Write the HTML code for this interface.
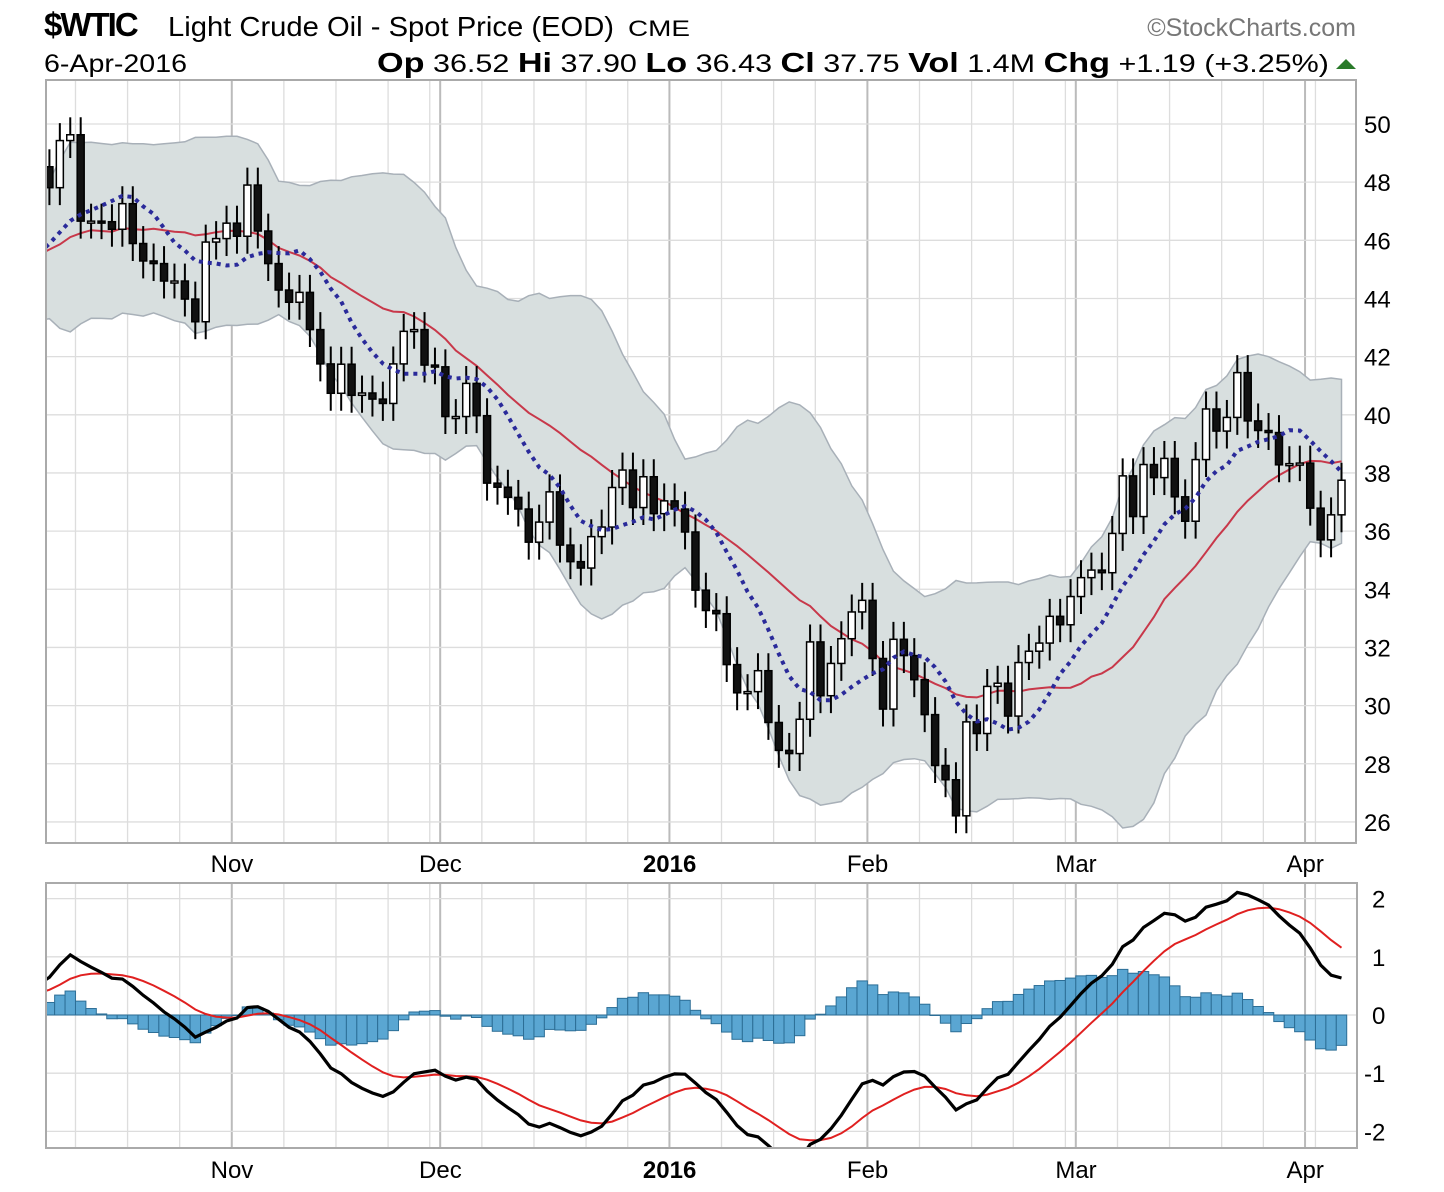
<!DOCTYPE html>
<html><head><meta charset="utf-8"><style>
body{margin:0;background:#fff;}
svg{display:block;font-family:"Liberation Sans",sans-serif;}
</style></head><body>
<svg id="c" width="1444" height="1192" viewBox="0 0 1444 1192">
<rect width="1444" height="1192" fill="#fff"/>
<g>
<text x="44" y="36" font-size="33" font-weight="bold" letter-spacing="-2">$WTIC</text>
<text x="168" y="36" font-size="28" textLength="446" lengthAdjust="spacingAndGlyphs">Light Crude Oil - Spot Price (EOD)</text>
<text x="628" y="36" font-size="22" textLength="62" lengthAdjust="spacingAndGlyphs">CME</text>
<text x="1356" y="36" font-size="25" fill="#777" text-anchor="end">©StockCharts.com</text>
<text x="44" y="72" font-size="25" textLength="143" lengthAdjust="spacingAndGlyphs">6-Apr-2016</text>
<text x="377" y="72" font-size="25" textLength="952" lengthAdjust="spacingAndGlyphs"><tspan font-weight="bold" font-size="28">Op</tspan> 36.52 <tspan font-weight="bold" font-size="28">Hi</tspan> 37.90 <tspan font-weight="bold" font-size="28">Lo</tspan> 36.43 <tspan font-weight="bold" font-size="28">Cl</tspan> 37.75 <tspan font-weight="bold" font-size="28">Vol</tspan> 1.4M <tspan font-weight="bold" font-size="28">Chg</tspan> +1.19 (+3.25%)</text>
<path d="M1336 69 L1346 59 L1356 69 Z" fill="#2a7a2a"/>
</g>
<defs>
<clipPath id="cp1"><rect x="46" y="80" width="1310" height="763"/></clipPath>
<clipPath id="cp2"><rect x="46" y="883" width="1311" height="265"/></clipPath>
</defs>
<g id="main"></g>
<g id="low"></g>
</svg>
<script>
// warm-up closes (Aug 10 - Oct 5 2015), used for indicators only
const warmCloses=[44.96,43.08,43.30,42.23,42.50,41.87,42.62,40.80,41.14,40.45,38.24,39.31,38.60,42.56,45.22,49.20,45.41,46.25,46.75,46.05,45.94,44.15,45.92,44.63,44.00,44.59,47.15,46.90,44.68,46.68,45.83,44.48,45.52,45.70,44.43,45.23,45.09,44.74,45.54,46.26];
// visible daily closes Oct 6 2015 - Apr 6 2016
const closes=[48.53,47.81,49.43,49.63,46.66,46.66,46.64,46.38,47.26,45.89,45.29,45.20,44.60,44.60,43.98,43.20,45.94,46.06,46.59,
46.14,47.90,46.32,45.20,44.29,43.87,44.21,42.93,41.75,40.74,41.74,40.67,40.75,40.54,40.39,41.75,42.87,42.93,41.71,41.65,
39.94,39.94,41.08,39.97,37.65,37.51,37.16,36.76,35.62,36.31,37.35,35.52,34.95,34.73,35.81,36.14,37.50,38.10,36.81,37.87,36.60,37.04,
36.76,35.97,33.97,33.27,33.16,31.41,30.44,30.48,31.20,29.42,28.46,28.35,29.53,32.19,30.34,31.45,32.30,33.22,33.62,
31.62,29.88,32.28,31.72,30.89,29.69,27.94,27.45,26.21,29.44,29.04,30.66,30.77,29.64,31.48,31.87,32.15,33.07,32.78,33.75,
34.40,34.66,34.57,35.92,37.90,36.50,38.29,37.84,38.50,37.18,36.34,38.46,40.20,39.44,39.91,41.45,39.79,39.46,39.39,38.28,38.32,38.34,
36.79,35.70,36.56,37.75];
const holidays=["2015-11-26","2015-12-25","2016-01-01","2016-01-18","2016-02-15","2016-03-25"];
const priceTicks=[26,28,30,32,34,36,38,40,42,44,46,48,50];
const macdTicks=[-2,-1,0,1,2];
const monthLabels=[["Nov",10],["Dec",11],["2016",0],["Feb",1],["Mar",2],["Apr",3]];

const NS="http://www.w3.org/2000/svg";
function mk(tag,attrs,parent){const e=document.createElementNS(NS,tag);for(const k in attrs)e.setAttribute(k,attrs[k]);parent.appendChild(e);return e;}
const X=i=>39+i*10.42;
const Y=v=>124+(50-v)*29.08;
const Y2=v=>1015-v*58.2;
const dates=[];{let d=new Date(Date.UTC(2015,9,6));while(dates.length<closes.length){const dw=d.getUTCDay();const s=d.toISOString().slice(0,10);if(dw>0&&dw<6&&!holidays.includes(s))dates.push(new Date(d));d.setUTCDate(d.getUTCDate()+1);}}
const all=warmCloses.concat(closes);const W=warmCloses.length;
function sma(n,i){let s=0;for(let k=i-n+1;k<=i;k++)s+=all[k];return s/n;}
function sd(n,i){const m=sma(n,i);let s=0;for(let k=i-n+1;k<=i;k++)s+=(all[k]-m)**2;return Math.sqrt(s/n);}
function ema(arr,n){const a=2/(n+1);const o=[arr[0]];for(let i=1;i<arr.length;i++)o.push(arr[i]*a+o[i-1]*(1-a));return o;}
const e12=ema(all,12),e26=ema(all,26);const macd=all.map((v,i)=>e12[i]-e26[i]);const sig=ema(macd,9);

const main=document.getElementById('main'),low=document.getElementById('low');
function grid(parent,top,bot,cp){
  const g=mk('g',{'clip-path':`url(#${cp})`},parent);
  
  
  for(let i=0;i<dates.length;i++){
    const d=dates[i],p=dates[i-1];
    const newMonth=p&&d.getUTCMonth()!==p.getUTCMonth();
    const newWeek=p&&d.getUTCDay()<p.getUTCDay();
    if(newMonth||newWeek){const x=X(i)-5.2;mk('line',{x1:x,x2:x,y1:top,y2:bot,stroke:newMonth?'#bbb':'#ddd','stroke-width':newMonth?2:1.3},g);}
  }
  return g;
}
grid(main,80,843,'cp1');grid(low,883,1148,'cp2');
priceTicks.forEach(v=>{
  const l=mk('line',{x1:46,x2:1356,y1:Y(v),y2:Y(v),stroke:'#ddd','stroke-width':1.3},main);
  
  const t=mk('text',{x:1364,y:Y(v)+9,'font-size':24},main);t.textContent=v;
  
});
macdTicks.forEach(v=>{
  const l=mk('line',{x1:46,x2:1357,y1:Y2(v),y2:Y2(v),stroke:'#ddd','stroke-width':1.3},low);
  
  const t=mk('text',{x:v<0?1364:1372,y:Y2(v)+9,'font-size':24},low);t.textContent=v;
  
});
[[862+10,main],[1168+10,low]].forEach(([yy,par])=>{
  monthLabels.forEach(([lab,m])=>{
    const i=dates.findIndex(d=>d.getUTCMonth()===m);
    const t=mk('text',{x:X(i)-5,y:yy,'font-size':24,'text-anchor':'middle','font-weight':lab==='2016'?'bold':'normal'},par);t.textContent=lab;
    
  });
});
const pc=mk('g',{'clip-path':'url(#cp1)'},main);
let up=[],lo=[],mid=[],m10=[];
for(let i=0;i<closes.length;i++){const k=i+W;const m=sma(20,k),s=sd(20,k);up.push([X(i),Y(m+2*s)]);lo.push([X(i),Y(m-2*s)]);mid.push([X(i),Y(m)]);m10.push([X(i),Y(sma(10,k))]);}
const pts=a=>a.map(p=>p[0].toFixed(1)+','+p[1].toFixed(1)).join(' ');
const band=mk('polygon',{points:pts(up)+' '+pts(lo.slice().reverse()),fill:'#d8dfdf',stroke:'#a8b0b8','stroke-width':1.5},pc);

const mg=mk('polyline',{points:pts(mid),fill:'none',stroke:'#b8bcc4','stroke-width':1.3,'stroke-dasharray':'3 3'},pc);

const red=mk('polyline',{points:pts(mid),fill:'none',stroke:'#c8384a','stroke-width':2},pc);

for(let i=0;i<closes.length;i++){
  const c=closes[i],o=i>0?closes[i-1]:48.2;const h=Math.max(o,c)+0.6,l=Math.min(o,c)-0.6;const x=X(i);
  const g=mk('g',{},pc);
  
  mk('line',{x1:x,x2:x,y1:Y(h),y2:Y(l),stroke:'#000','stroke-width':2},g);
  const top=Y(Math.max(o,c)),bh=Math.max(2,Math.abs(Y(o)-Y(c)));
  mk('rect',{x:x-3.5,y:top,width:7,height:bh,fill:c>=o?'#fff':'#111',stroke:'#000','stroke-width':1.5},g);
}
const blue=mk('polyline',{points:pts(m10),fill:'none',stroke:'#2a2a9a','stroke-width':4,'stroke-dasharray':'4 5'},pc);

const lc=mk('g',{'clip-path':'url(#cp2)'},low);
for(let i=0;i<closes.length;i++){
  const k=i+W,h=macd[k]-sig[k];const y0=Y2(0),y1=Y2(h);
  const r=mk('rect',{x:X(i)-5.2,y:Math.min(y0,y1),width:10.42,height:Math.max(0.5,Math.abs(y1-y0)),fill:'#5aa6d2',stroke:'#2c6e96','stroke-width':1},lc);
  
}
const mp=[],sp=[];for(let i=0;i<closes.length;i++){mp.push([X(i),Y2(macd[i+W])]);sp.push([X(i),Y2(sig[i+W])]);}
const sl=mk('polyline',{points:pts(sp),fill:'none',stroke:'#e02020','stroke-width':2},lc);

const ml=mk('polyline',{points:pts(mp),fill:'none',stroke:'#000','stroke-width':3.2},lc);

const f1=mk('rect',{x:46,y:80,width:1310,height:763,fill:'none',stroke:'#aaa','stroke-width':2},main);

const f2=mk('rect',{x:46,y:883,width:1311,height:265,fill:'none',stroke:'#aaa','stroke-width':2},low);

</script>
</body></html>
